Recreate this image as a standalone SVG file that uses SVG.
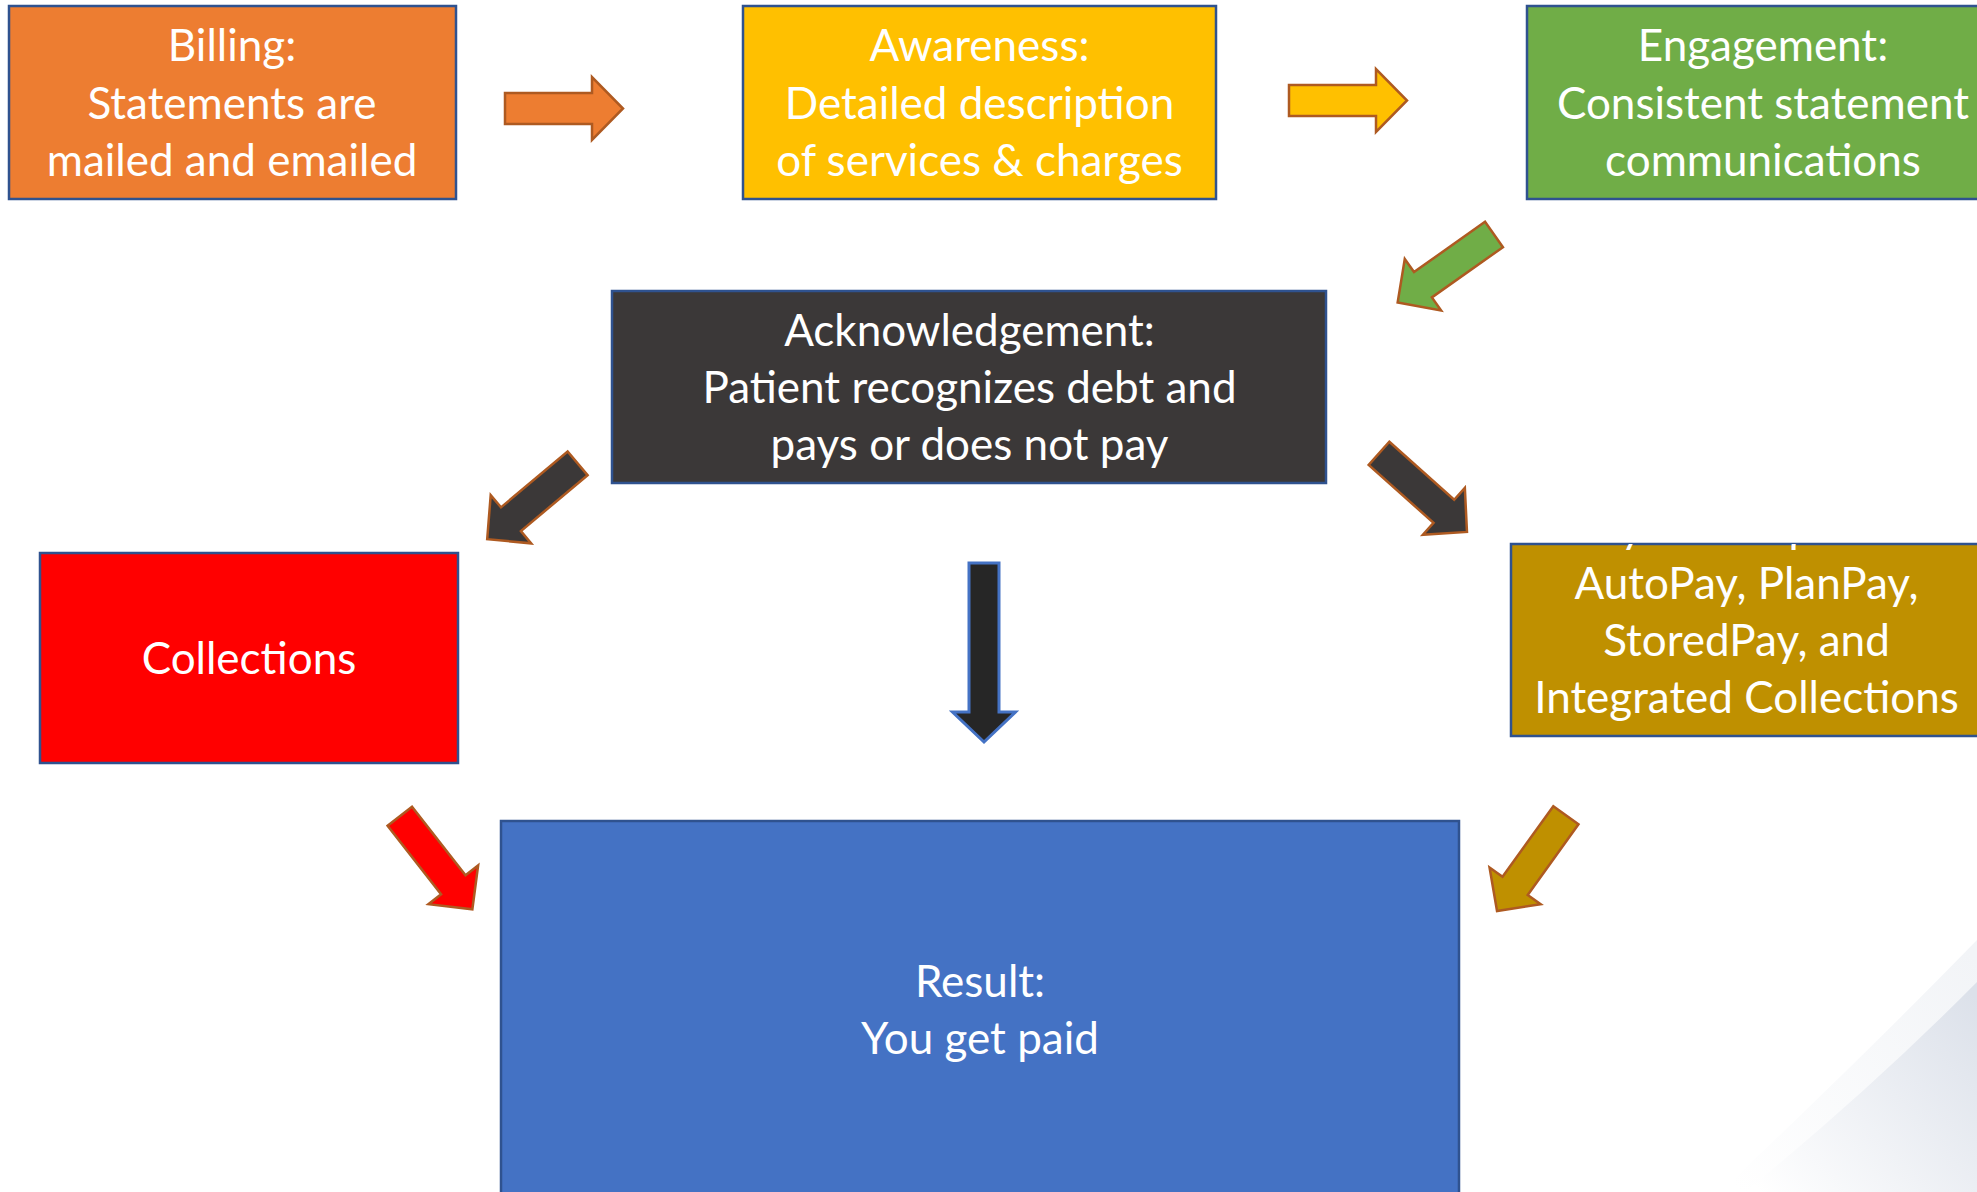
<svg xmlns="http://www.w3.org/2000/svg" xmlns:xlink="http://www.w3.org/1999/xlink" width="1977" height="1192" viewBox="0 0 1977 1192">
  <style>
    .box { stroke: #2F528F; stroke-width: 2.5; }
    .lbl { font-family: "Lato", "Open Sans", sans-serif; font-size: 44px; fill: #FFFFFF; text-anchor: middle; }
    .arr { stroke: #AE5A21; stroke-width: 2.5; stroke-linejoin: miter; }
    .orange { fill: #ED7D31; }
    .yellow { fill: #FFC000; }
    .green { fill: #70AD47; }
    .dark { fill: #3B3838; }
    .red { fill: #FF0000; }
    .gold { fill: #BF9000; }
    .blue { fill: #4472C4; }
  </style>
  <defs>
    <!-- block arrow pointing along +x, tail centred on the origin -->
    <path id="blockArrow" d="M0,-15.5 H87 V-31.5 L118,0 L87,31.5 V15.5 H0 Z"/>
    <linearGradient id="swooshOuter" gradientUnits="userSpaceOnUse" x1="1977" y1="960" x2="1740" y2="1192">
      <stop offset="0" stop-color="#F2F4F7"/>
      <stop offset="1" stop-color="#FFFFFF"/>
    </linearGradient>
    <linearGradient id="swooshInner" gradientUnits="userSpaceOnUse" x1="1977" y1="1000" x2="1760" y2="1192">
      <stop offset="0" stop-color="#DCE1EA"/>
      <stop offset="1" stop-color="#FFFFFF"/>
    </linearGradient>
    <clipPath id="payClip">
      <rect x="1511" y="544" width="480" height="192"/>
    </clipPath>
  </defs>

  <rect width="1977" height="1192" fill="#FFFFFF"/>

  <!-- decorative corner swoosh -->
  <g id="background-swoosh">
    <path d="M1977,940 Q1860,1060 1720,1192 L1977,1192 Z" fill="url(#swooshOuter)"/>
    <path d="M1977,982 Q1870,1090 1745,1192 L1977,1192 Z" fill="url(#swooshInner)"/>
  </g>

  <g id="node-billing">
    <rect class="box orange" x="9" y="6" width="447" height="193"/>
    <text class="lbl" x="232" y="61">Billing:</text>
    <text class="lbl" x="232" y="119">Statements are</text>
    <text class="lbl" x="232" y="176">mailed and emailed</text>
  </g>

  <g id="node-awareness">
    <rect class="box yellow" x="743" y="6" width="473" height="193"/>
    <text class="lbl" x="979.5" y="61">Awareness:</text>
    <text class="lbl" x="979.5" y="119">Detailed description</text>
    <text class="lbl" x="979.5" y="176">of services &amp; charges</text>
  </g>

  <g id="node-engagement">
    <rect class="box green" x="1527" y="6" width="480" height="193"/>
    <text class="lbl" x="1763" y="61">Engagement:</text>
    <text class="lbl" x="1763" y="119">Consistent statement</text>
    <text class="lbl" x="1763" y="176">communications</text>
  </g>

  <g id="node-acknowledgement">
    <rect class="box dark" x="612" y="291" width="714" height="192"/>
    <text class="lbl" x="969.5" y="346">Acknowledgement:</text>
    <text class="lbl" x="969.5" y="403">Patient recognizes debt and</text>
    <text class="lbl" x="969.5" y="460">pays or does not pay</text>
  </g>

  <g id="node-collections">
    <rect class="box red" x="40" y="553" width="418" height="210"/>
    <text class="lbl" x="249" y="674">Collections</text>
  </g>

  <g id="node-payment-options">
    <rect class="box gold" x="1511" y="544" width="480" height="192"/>
    <text class="lbl" x="1746.5" y="542" clip-path="url(#payClip)">Payment Options:</text>
    <text class="lbl" x="1746.5" y="599">AutoPay, PlanPay,</text>
    <text class="lbl" x="1746.5" y="656">StoredPay, and</text>
    <text class="lbl" x="1746.5" y="713">Integrated Collections</text>
  </g>

  <g id="node-result">
    <rect class="box blue" x="501" y="821" width="958" height="390"/>
    <text class="lbl" x="980" y="997">Result:</text>
    <text class="lbl" x="980" y="1054">You get paid</text>
  </g>

  <g id="connectors">
    <use xlink:href="#blockArrow" class="arr orange" transform="translate(505,108.5)"/>
    <use xlink:href="#blockArrow" class="arr yellow" transform="translate(1289,100.5)"/>
    <use xlink:href="#blockArrow" class="arr green" transform="translate(1494,234.5) rotate(144.75)"/>
    <use xlink:href="#blockArrow" class="arr dark" transform="translate(577.6,463.3) rotate(140)"/>
    <use xlink:href="#blockArrow" class="arr dark" transform="translate(1379,453.3) rotate(41.8)"/>
    <use xlink:href="#blockArrow" class="arr red" transform="translate(399.8,816.2) rotate(52.05)"/>
    <use xlink:href="#blockArrow" class="arr gold" transform="translate(1565.9,815.2) rotate(125.7)"/>
    <path d="M969,563 H999 V712 H1015.5 L984,742 L952.5,712 H969 Z" fill="#262626" stroke="#4472C4" stroke-width="3"/>
  </g>
</svg>
